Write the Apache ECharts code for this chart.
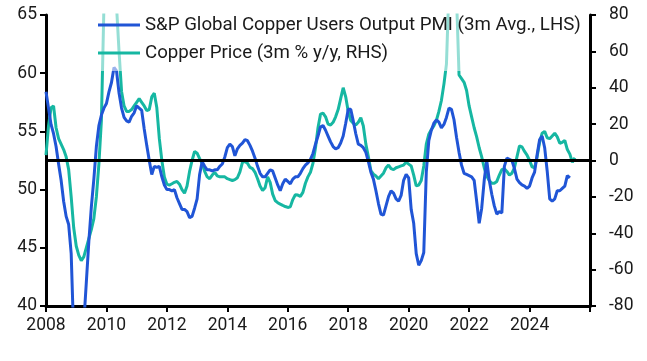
<!DOCTYPE html>
<html>
<head>
<meta charset="utf-8">
<script src="https://cdn.jsdelivr.net/npm/echarts@6/dist/echarts.min.js"></script>
<style>html,body{margin:0;padding:0;background:#fff}#c{width:647px;height:361px}</style>
</head>
<body>
<div id="c"></div>
<script>
// Monthly data starting January 2008
var startYear = 2008;
var pmiName = 'S&P Global Copper Users Output PMI (3m Avg., LHS)';
var copperName = 'Copper Price (3m % y/y, RHS)';
var xTicks = [2008, 2010, 2012, 2014, 2016, 2018, 2020, 2022, 2024, 2026];
var pmi = [
58.4,57.0,55.6,54.8,53.7,52.2,50.8,49.0,47.7,47.0,44.5,37.5,
35.0,34.0,35.5,38.5,42.0,45.5,48.5,50.9,53.7,55.5,56.4,57.0,
57.4,58.4,59.2,60.5,60.2,58.3,57.0,56.2,55.9,55.8,56.3,56.6,
57.2,57.0,56.8,55.2,53.8,52.5,51.3,52.0,51.9,52.0,51.1,50.4,
50.0,50.0,49.9,50.0,49.3,48.8,48.3,48.3,48.1,47.6,47.7,48.4,
49.2,51.3,52.4,52.0,51.7,51.7,51.6,51.7,51.7,52.0,52.2,52.8,
53.6,53.9,53.7,52.9,53.5,53.8,54.0,54.3,54.2,53.8,53.3,52.7,
52.0,51.4,51.1,51.1,51.4,51.7,51.6,51.0,50.4,49.9,50.5,50.9,
50.7,50.5,50.9,51.1,51.1,51.4,51.8,52.1,52.3,52.6,53.1,53.9,
54.6,55.4,55.5,55.1,54.6,54.1,53.7,53.5,53.6,54.0,54.6,55.7,
56.9,56.9,55.9,54.8,53.9,53.8,53.6,53.2,52.4,51.5,50.9,49.9,
48.8,47.9,47.8,48.6,49.4,49.9,49.7,49.2,49.0,49.5,50.8,51.3,
51.0,48.3,47.1,44.5,43.5,43.9,44.6,51.5,54.2,55.1,55.7,56.0,
55.8,55.3,55.6,56.2,57.0,56.9,56.0,54.5,53.2,52.1,51.4,51.3,
51.2,51.1,50.8,49.0,47.1,48.4,50.8,52.5,50.8,49.6,48.6,47.9,
48.1,48.0,52.0,52.7,52.6,52.5,51.8,50.9,50.6,50.4,50.3,50.1,
50.3,51.0,51.5,53.0,54.3,54.6,53.6,51.6,49.2,49.0,49.2,49.9,
49.9,50.1,50.3,51.2,51.0
];
var copper = [
3,19,29,30,18,12,9,6,2,-5,-20,-37,
-47,-52,-55,-53,-48,-43,-38,-32,-20,-2,22,85,
120,135,130,110,85,60,38,30,27,27,28,30,
32,34,32,30,27.5,28,35,37,29,12,0,-9,
-13,-13.5,-12.8,-12,-11.5,-13,-16,-18,-14,-6,0,5,
4,1,-1.5,-6,-9,-10,-8,-6.5,-8.5,-9,-9,-9,
-10,-10.5,-11,-10.5,-9.5,-6.3,-1,-0.5,-1.5,-3.8,-4.5,-6.5,
-10,-14,-16.5,-15,-9,-12,-18.5,-22,-23.2,-24,-24.7,-25.3,
-25.8,-25.5,-21.5,-18.8,-19,-19.7,-17.5,-12.5,-9,-6.5,-1.5,7,
18,25.5,26,24,20,19.5,21,24,28,34,40,35,
27,22,20.5,19.5,21,23.5,19,9,2,-5.5,-7.5,-8.5,
-10,-8.5,-7,-4,-2.5,-4.5,-5,-4,-3.5,-3,-2.5,-1,
-2,-3,-8,-14,-13.5,-11,-3,9,14.5,17,19,22,
27,33,42,53,95,110,105,90,47,45,43,38.5,
30,24,18,13,7,2,-4,-8.5,-11,-12.5,-12.5,-11.5,
-8,-5,-4.5,-6,-8,-7,-4,2,8,7.5,5,3,
0,-3.5,-4,2,10,15,16,12.5,12,13.5,15,13,
9.5,10,11,6,3.5,-1,1.5
];

function toSeries(arr) {
  return arr.map(function (v, i) { return [startYear + i / 12, v]; });
}

var blue = '#2055d6';
var teal = '#16b7a2';
var txt = '#1a1a1a';
var font = 'Roboto';

var chart = echarts.init(document.getElementById('c'), null, {renderer: 'canvas'});
chart.setOption({
  animation: false,
  backgroundColor: '#fff',
  textStyle: {fontFamily: font},
  grid: {left: 46, right: 57, top: 15, bottom: 55, containLabel: false},
  legend: {
    orient: 'vertical',
    left: 92, top: 8,
    padding: [6, 8, 7, 6],
    itemWidth: 42, itemHeight: 3, itemGap: 6,
    icon: 'rect',
    backgroundColor: 'rgba(255,255,255,0.55)',
    textStyle: {fontFamily: font, fontSize: 18.7, color: txt, lineHeight: 22},
    data: [
      {name: pmiName, icon: 'rect', itemStyle: {color: blue}},
      {name: copperName, icon: 'rect', itemStyle: {color: teal}}
    ]
  },
  xAxis: {
    type: 'value', min: xTicks[0], max: xTicks[xTicks.length - 1], interval: 2,
    axisLine: {onZero: false, lineStyle: {color: '#000', width: 3}},
    axisTick: {show: true, length: 6, lineStyle: {color: '#000', width: 2}},
    splitLine: {show: false},
    axisLabel: {
      color: txt, fontSize: 17.5, fontFamily: font, margin: 11,
      formatter: function (v) { return v === xTicks[xTicks.length - 1] ? '' : String(v); }
    }
  },
  yAxis: [{
    type: 'value', min: 40, max: 65, interval: 5, position: 'left',
    axisLine: {show: true, onZero: false, lineStyle: {color: '#000', width: 3}},
    axisTick: {show: true, length: 6, lineStyle: {color: '#000', width: 2}},
    splitLine: {show: false},
    axisLabel: {color: txt, fontSize: 17.5, fontFamily: font, margin: 9}
  }, {
    type: 'value', min: -80, max: 80, interval: 20, position: 'right',
    axisLine: {show: true, onZero: false, lineStyle: {color: '#000', width: 3}},
    axisTick: {show: true, length: 6, lineStyle: {color: '#000', width: 2}},
    splitLine: {show: false},
    axisLabel: {color: txt, fontSize: 17.5, fontFamily: font, margin: 19, align: 'left'}
  }],
  series: [{
    name: pmiName, type: 'line', yAxisIndex: 0, xAxisIndex: 0,
    data: toSeries(pmi), symbol: 'none', showSymbol: false, clip: true,
    lineStyle: {color: blue, width: 3}, itemStyle: {color: blue},
    z: 3,
    markLine: {
      silent: true, symbol: ['none', 'none'], label: {show: false},
      lineStyle: {color: '#000', width: 3, type: 'solid'},
      data: [{yAxis: 52.5}]
    }
  }, {
    name: copperName, type: 'line', yAxisIndex: 1,
    data: toSeries(copper), symbol: 'none', showSymbol: false, clip: true,
    lineStyle: {color: teal, width: 3}, itemStyle: {color: teal},
    z: 2
  }]
});
</script>
</body>
</html>
